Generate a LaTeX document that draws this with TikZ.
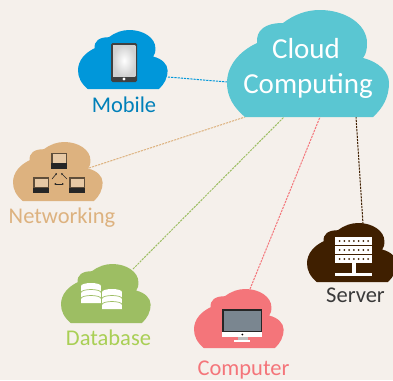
\documentclass[tikz,border=0pt]{standalone}
\usepackage{fontspec}
\setmainfont{Carlito}
\usetikzlibrary{arrows,arrows.meta,calc,shadings}
\definecolor{bgcol}{HTML}{F5F0EB}
\definecolor{hubcol}{HTML}{5AC6D2}
\definecolor{mobcol}{HTML}{0097DA}
\definecolor{netcol}{HTML}{DDB27F}
\definecolor{dbcol}{HTML}{9DBE63}
\definecolor{dbtext}{HTML}{A9CF55}
\definecolor{pccol}{HTML}{F4757A}
\definecolor{srvcol}{HTML}{3F1F00}
\definecolor{srvtext}{HTML}{3A3A3A}
\definecolor{lapcol}{HTML}{5F4E3A}
\definecolor{scrcol}{HTML}{7A8690}
\tikzset{>={Latex[length=2pt,width=2pt]},
  pics/cloudpic/.style={code={
    \fill[pic actions,scale=#1] (18,107) .. controls (6,97) and (0,86) .. (0,73)
      .. controls (0,55) and (13,41) .. (30,33)
      .. controls (29,20) and (38,13) .. (56,13)
      .. controls (68,4) and (80,0) .. (93,0)
      .. controls (118,0) and (140,14) .. (140,33)
      .. controls (140,40) and (139,44) .. (136,48)
      .. controls (152,52) and (162,62) .. (162,73)
      .. controls (162,87) and (156,98) .. (146,107) -- cycle;
  }},
  linkline/.style={line width=1pt,dash pattern=on 2.2pt off 1pt},
  cloudlabel/.style={anchor=base,font=\fontsize{22.5}{22.5}\selectfont},
  hublabel/.style={anchor=base,text=white,font=\fontsize{29}{29}\selectfont},
  laptop/.pic={
    \fill[lapcol] (0,0) rectangle (16,11);
    \fill[netcol!70!white] (1.5,1.5) rectangle (14.5,10);
    \fill[black!85] (0,10.5) rectangle (16,16);
  },
  dbstack/.pic={
    \fill[white] (0,3) arc[start angle=180,end angle=360,x radius=10,y radius=3]
      arc[start angle=0,end angle=180,x radius=10,y radius=3];
    \fill[white] (0,3) rectangle (20,20);
    \fill[white] (0,20) arc[start angle=180,end angle=360,x radius=10,y radius=3] -- cycle;
    \draw[dbcol,line width=0.7pt] (0,9.5) arc[start angle=180,end angle=360,x radius=10,y radius=3];
    \draw[dbcol,line width=0.7pt] (0,15.5) arc[start angle=180,end angle=360,x radius=10,y radius=3];
  },
  srvrow/.pic={
    \fill[white] (0,0) rectangle (37,8);
    \foreach \i in {0,...,6} \fill[srvcol] (4.5+4.75*\i,4) circle (1);
  }
}

\begin{document}
\begin{tikzpicture}[x=1pt,y=-1pt]
  \useasboundingbox (0,0) rectangle (393,380);
  \clip (0,0) rectangle (393,380);
  \fill[bgcol] (0,0) rectangle (393,380);
  % ends of the links
  \coordinate (hubm) at (227,82);
  \coordinate (hubn) at (245,117);
  \coordinate (hubd) at (284,117);
  \coordinate (hubp) at (320,117);
  \coordinate (hubs) at (356,117);
  \coordinate (mobend) at (168,77);
  \coordinate (netend) at (89,168);
  \coordinate (dbend) at (133,269);
  \coordinate (pcend) at (250,289);
  \coordinate (srvend) at (363,224);
  \draw[linkline,mobcol] (mobend) -- (hubm);
  \draw[linkline,netcol] (netend) -- (hubn);
  \draw[linkline,dbcol] (dbend) -- (hubd);
  \draw[linkline,pccol] (pcend) -- (hubp);
  \draw[linkline,srvcol] (srvend) -- (hubs);
  % clouds
  \pic[fill=hubcol] at (227,10) {cloudpic=1};
  \pic[fill=mobcol] at (78,30) {cloudpic=0.553};
  \pic[fill=netcol] at (13,142) {cloudpic=0.553};
  \pic[fill=dbcol] at (61,264) {cloudpic=0.553};
  \pic[fill=pccol] at (194,289) {cloudpic=0.553};
  \pic[fill=srvcol] at (307,223) {cloudpic=0.553};
  % mobile
  \fill[black!75,rounded corners=1.5pt] (111,43) rectangle (137,82);
  \shade[inner color=white,outer color=black!18] (113,45) rectangle (135.3,76);
  \fill[white] (124,79) circle (1.6);
  % networking
  \pic at (51,152.5) {laptop};
  \pic at (33,177) {laptop};
  \pic at (69,177) {laptop};
  \draw[<->,black!85,line width=0.6pt] (54,184) -- (64,184);
  \draw[->,black!85,line width=0.6pt] (52,179) -- (57,173);
  \draw[->,black!85,line width=0.6pt] (67,179) -- (61,173);
  % database
  \pic at (81,283) {dbstack};
  \pic at (102,289) {dbstack};
  % computer
  \fill[white] (222,309) rectangle (262,337);
  \fill[black!85] (222,309) rectangle (262,332);
  \fill[scrcol] (224,310.5) rectangle (261,331);
  \fill[black] (242.3,334.5) circle (1);
  \fill[black!25] (237.5,337) rectangle (247.5,340);
  \fill[white] (234,340) rectangle (250,342);
  % server
  \pic at (335,237) {srvrow};
  \pic at (335,246) {srvrow};
  \pic at (335,255) {srvrow};
  \fill[white] (352,263) rectangle (355.5,273);
  \fill[white] (335,273) rectangle (372,276);
  % labels
  \node[hublabel] (hubtop) at (306,58) {Cloud};
  \node[hublabel] (hubbot) at (308,93) {Computing};
  \node[cloudlabel,text=mobcol!85!black] (moblabel) at (124,112) {Mobile};
  \node[cloudlabel,text=netcol] (netlabel) at (62,223) {Networking};
  \node[cloudlabel,text=dbtext] (dblabel) at (108.5,345) {Database};
  \node[cloudlabel,text=pccol] (pclabel) at (243.5,375) {Computer};
  \node[cloudlabel,text=srvtext] (srvlabel) at (355.5,302) {Server};
\end{tikzpicture}
\end{document}
